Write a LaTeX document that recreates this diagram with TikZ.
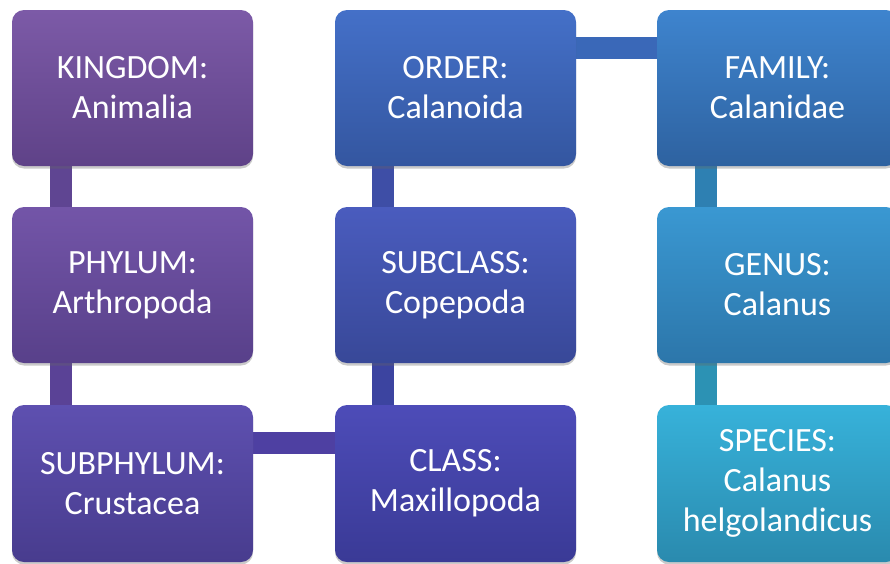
\documentclass[tikz,border=0pt]{standalone}
\usepackage{fontspec}
\setmainfont{Carlito}
\usetikzlibrary{shadows,backgrounds}
\definecolor{kT}{HTML}{7C5AA7}\definecolor{kB}{HTML}{5F4288}
\definecolor{pT}{HTML}{7355A8}\definecolor{pB}{HTML}{58408A}
\definecolor{sT}{HTML}{5E50B0}\definecolor{sB}{HTML}{483C8E}
\definecolor{cT}{HTML}{4D4CB8}\definecolor{cB}{HTML}{3A3A96}
\definecolor{scT}{HTML}{4A5CBE}\definecolor{scB}{HTML}{384898}
\definecolor{oT}{HTML}{4470C8}\definecolor{oB}{HTML}{3456A0}
\definecolor{fT}{HTML}{3E84CE}\definecolor{fB}{HTML}{2E62A0}
\definecolor{gT}{HTML}{3A98D2}\definecolor{gB}{HTML}{2C76AA}
\definecolor{spT}{HTML}{37B2DA}\definecolor{spB}{HTML}{2A8AAE}
\definecolor{c1}{HTML}{5F4592}
\definecolor{c1b}{HTML}{5A4296}
\definecolor{c2}{HTML}{4E40A2}
\definecolor{c3}{HTML}{3E4EA6}
\definecolor{c3b}{HTML}{3C44A0}
\definecolor{c4}{HTML}{3A68B8}
\definecolor{c5}{HTML}{2E80B2}
\definecolor{c5b}{HTML}{2C92B4}
\tikzset{
  taxbox/.style={rounded corners=12pt, minimum width=241pt, minimum height=156pt,
    inner sep=0pt, align=center, text=white,
    font=\fontsize{34}{40}\selectfont,
    drop shadow={shadow xshift=0pt, shadow yshift=-2.5pt, opacity=0.35, fill=black!60}},
  conn/.style={line width=22pt}
}
\begin{document}
\begin{tikzpicture}[x=1pt,y=-1pt]
\useasboundingbox (0,0) rectangle (890,563);
% nodes
\node[taxbox, top color=kT, bottom color=kB] (K) at (132.5,88) {KINGDOM:\\Animalia};
\node[taxbox, top color=pT, bottom color=pB] (P) at (132.5,285) {PHYLUM:\\Arthropoda};
\node[taxbox, top color=sT, bottom color=sB, minimum height=157pt] (S) at (132.5,483.5) {SUBPHYLUM:\\Crustacea};
\node[taxbox, top color=cT, bottom color=cB, minimum height=157pt] (C) at (455.5,483.5) {CLASS:\\Maxillopoda};
\node[taxbox, top color=scT, bottom color=scB] (SC) at (455.5,285) {SUBCLASS:\\Copepoda};
\node[taxbox, top color=oT, bottom color=oB] (O) at (455.5,88) {ORDER:\\Calanoida};
\node[taxbox, top color=fT, bottom color=fB] (F) at (777.5,88) {FAMILY:\\Calanidae};
\node[taxbox, top color=gT, bottom color=gB] (G) at (777.5,285) {GENUS:\\Calanus};
\node[taxbox, top color=spT, bottom color=spB, minimum height=157pt] (SP) at (777.5,483.5) {SPECIES:\\Calanus\\helgolandicus};
% connectors (behind boxes)
\begin{scope}[on background layer]
\draw[conn, c1] ([xshift=-71.5pt,yshift=5pt]K.south) -- ([xshift=-71.5pt,yshift=-5pt]P.north);
\draw[conn, c1b] ([xshift=-71.5pt,yshift=5pt]P.south) -- ([xshift=-71.5pt,yshift=-5pt]S.north);
\draw[conn, c2] ([xshift=-5pt,yshift=40.5pt]S.east) -- ([xshift=5pt,yshift=40.5pt]C.west);
\draw[conn, c3b] ([xshift=-72.5pt,yshift=-5pt]C.north) -- ([xshift=-72.5pt,yshift=5pt]SC.south);
\draw[conn, c3] ([xshift=-72.5pt,yshift=-5pt]SC.north) -- ([xshift=-72.5pt,yshift=5pt]O.south);
\draw[conn, c4] ([xshift=-5pt,yshift=40pt]O.east) -- ([xshift=5pt,yshift=40pt]F.west);
\draw[conn, c5] ([xshift=-72pt,yshift=5pt]F.south) -- ([xshift=-72pt,yshift=-5pt]G.north);
\draw[conn, c5b] ([xshift=-72pt,yshift=5pt]G.south) -- ([xshift=-72pt,yshift=-5pt]SP.north);
\end{scope}
\end{tikzpicture}
\end{document}
